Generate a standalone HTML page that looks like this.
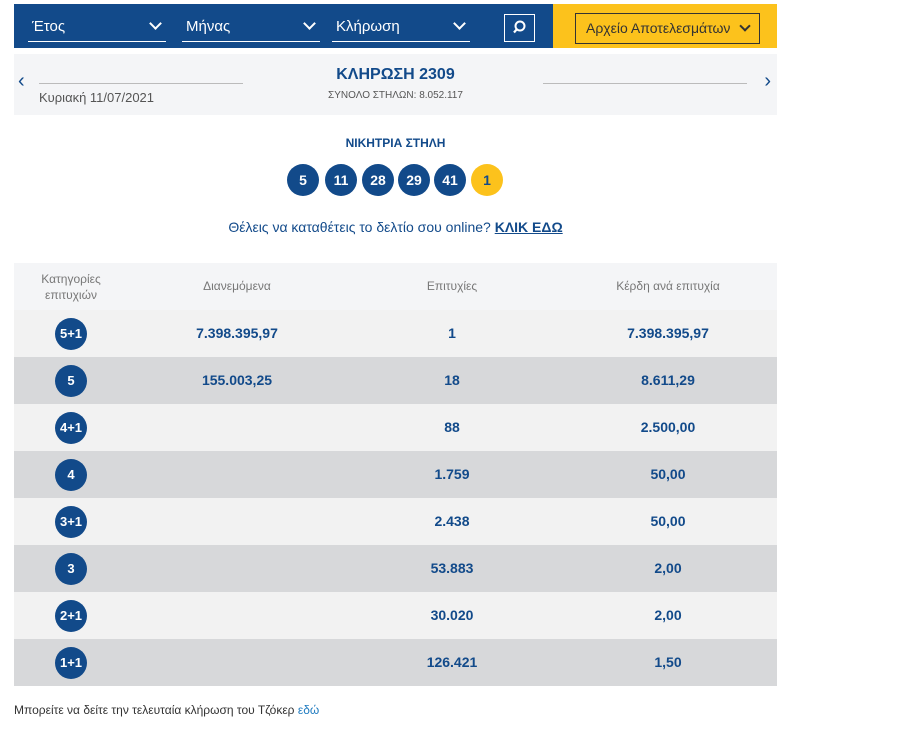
<!DOCTYPE html>
<html><head><meta charset="utf-8"><style>
*{box-sizing:border-box;margin:0;padding:0}
body{width:904px;height:752px;background:#fff;font-family:"Liberation Sans","DejaVu Sans",sans-serif;position:relative;overflow:hidden;color:#124a8a}
.abs{position:absolute}
.topbar{left:14px;top:4px;width:763px;height:44px;background:#124a8a}
.yel{left:539px;top:0;width:224px;height:44px;background:#fcc21c}
.sel{top:11px;height:27px;border-bottom:1.5px solid #fff;color:#fff;font-size:15px;line-height:24px;padding-left:4px}
.sel .chev{position:absolute;right:6px;top:4px;width:9px;height:9px;border-right:2px solid #fff;border-bottom:2px solid #fff;transform:rotate(45deg)}
.band{left:14px;top:54px;width:763px;height:61px;background:#f4f5f7}
.ball{width:32px;height:32px;border-radius:50%;background:#124a8a;color:#fff;font-weight:bold;font-size:14px;text-align:center;line-height:32px;top:164px}
.row{left:14px;width:763px;height:47px;font-weight:bold;font-size:14px}
.row div{position:absolute;top:0;line-height:47px;text-align:center}
.cat{width:32px!important;height:32px;border-radius:50%;background:#124a8a;color:#fff;line-height:32px!important;top:8px!important;left:41px;font-size:13px}
</style></head><body>
<div class="abs topbar">
 <div class="abs sel" style="left:14px;width:138px">Έτος<span class="chev"></span></div>
 <div class="abs sel" style="left:168px;width:138px">Μήνας<span class="chev"></span></div>
 <div class="abs sel" style="left:318px;width:138px">Κλήρωση<span class="chev"></span></div>
 <div class="abs" style="left:490px;top:10px;width:31px;height:28px;border:1.5px solid #fff">
  <svg width="28" height="25" viewBox="0 0 28 25"><circle cx="15" cy="11" r="4.5" stroke="#fff" stroke-width="2" fill="none"/><line x1="12" y1="14" x2="9" y2="17.5" stroke="#fff" stroke-width="2.2"/></svg></div>
 <div class="abs yel">
  <div class="abs" style="left:22px;top:9px;width:185px;height:31px;border:1px solid #333;color:#333;font-size:14px;line-height:29px;padding-left:10px">Αρχείο Αποτελεσμάτων<span style="position:absolute;right:10px;top:8px;width:8px;height:8px;border-right:2px solid #333;border-bottom:2px solid #333;transform:rotate(45deg)"></span></div>
 </div>
</div>
<div class="abs band">
 <div class="abs" style="left:4px;top:16px;font-size:20px;color:#124a8a">‹</div>
 <div class="abs" style="right:6px;top:16px;font-size:20px;color:#124a8a">›</div>
 <div class="abs" style="left:25px;top:29px;width:204px;border-top:1px solid #bbb"></div>
 <div class="abs" style="left:529px;top:29px;width:204px;border-top:1px solid #bbb"></div>
 <div class="abs" style="left:25px;top:36px;font-size:13px;color:#555">Κυριακή 11/07/2021</div>
 <div class="abs" style="left:0;width:763px;top:12px;text-align:center;font-weight:bold;font-size:16px">ΚΛΗΡΩΣΗ 2309</div>
 <div class="abs" style="left:0;width:763px;top:36px;text-align:center;font-size:10px;color:#555">ΣΥΝΟΛΟ ΣΤΗΛΩΝ: 8.052.117</div>
</div>
<div class="abs" style="left:14px;width:763px;top:136px;text-align:center;font-weight:bold;font-size:12px">ΝΙΚΗΤΡΙΑ ΣΤΗΛΗ</div>
<div class="abs ball" style="left:287px">5</div>
<div class="abs ball" style="left:325px">11</div>
<div class="abs ball" style="left:362px">28</div>
<div class="abs ball" style="left:398px">29</div>
<div class="abs ball" style="left:434px">41</div>
<div class="abs ball" style="left:471px;background:#fcc21c;color:#124a8a">1</div>
<div class="abs" style="left:14px;width:763px;top:219px;text-align:center;font-size:14px;color:#124a8a">Θέλεις να καταθέτεις το δελτίο σου online? <b style="text-decoration:underline">ΚΛΙΚ ΕΔΩ</b></div>
<div class="abs" style="left:14px;top:263px;width:763px;height:47px;background:#f4f5f7;color:#777;font-size:12px">
 <div class="abs" style="left:17px;width:80px;top:8px;text-align:center;line-height:16px">Κατηγορίες<br>επιτυχιών</div>
 <div class="abs" style="left:143px;width:160px;top:16px;text-align:center">Διανεμόμενα</div>
 <div class="abs" style="left:358px;width:160px;top:16px;text-align:center">Επιτυχίες</div>
 <div class="abs" style="left:574px;width:160px;top:16px;text-align:center">Κέρδη ανά επιτυχία</div>
</div>
<div id="tbl"></div>
<div class="abs" style="left:14px;top:703px;font-size:12px;color:#333">Μπορείτε να δείτε την τελευταία κλήρωση του Τζόκερ <span style="color:#1f7bc0">εδώ</span></div>
<script>
const cats=["5+1","5","4+1","4","3+1","3","2+1","1+1"];
const dist=["7.398.395,97","155.003,25","","","","","",""];
const wins=["1","18","88","1.759","2.438","53.883","30.020","126.421"];
const prize=["7.398.395,97","8.611,29","2.500,00","50,00","50,00","2,00","2,00","1,50"];
const t=document.getElementById('tbl');
cats.forEach((c,i)=>{
 const r=document.createElement('div');
 r.className='abs row';
 r.style.top=(310+i*47)+'px';
 r.style.background=i%2?'#d7d8da':'#f2f2f2';
 
 
 r.innerHTML='<div class="cat">'+c+'</div><div style="left:143px;width:160px">'+dist[i]+'</div><div style="left:358px;width:160px">'+wins[i]+'</div><div style="left:574px;width:160px">'+prize[i]+'</div>';
 t.appendChild(r);
});
</script>
</body></html>
